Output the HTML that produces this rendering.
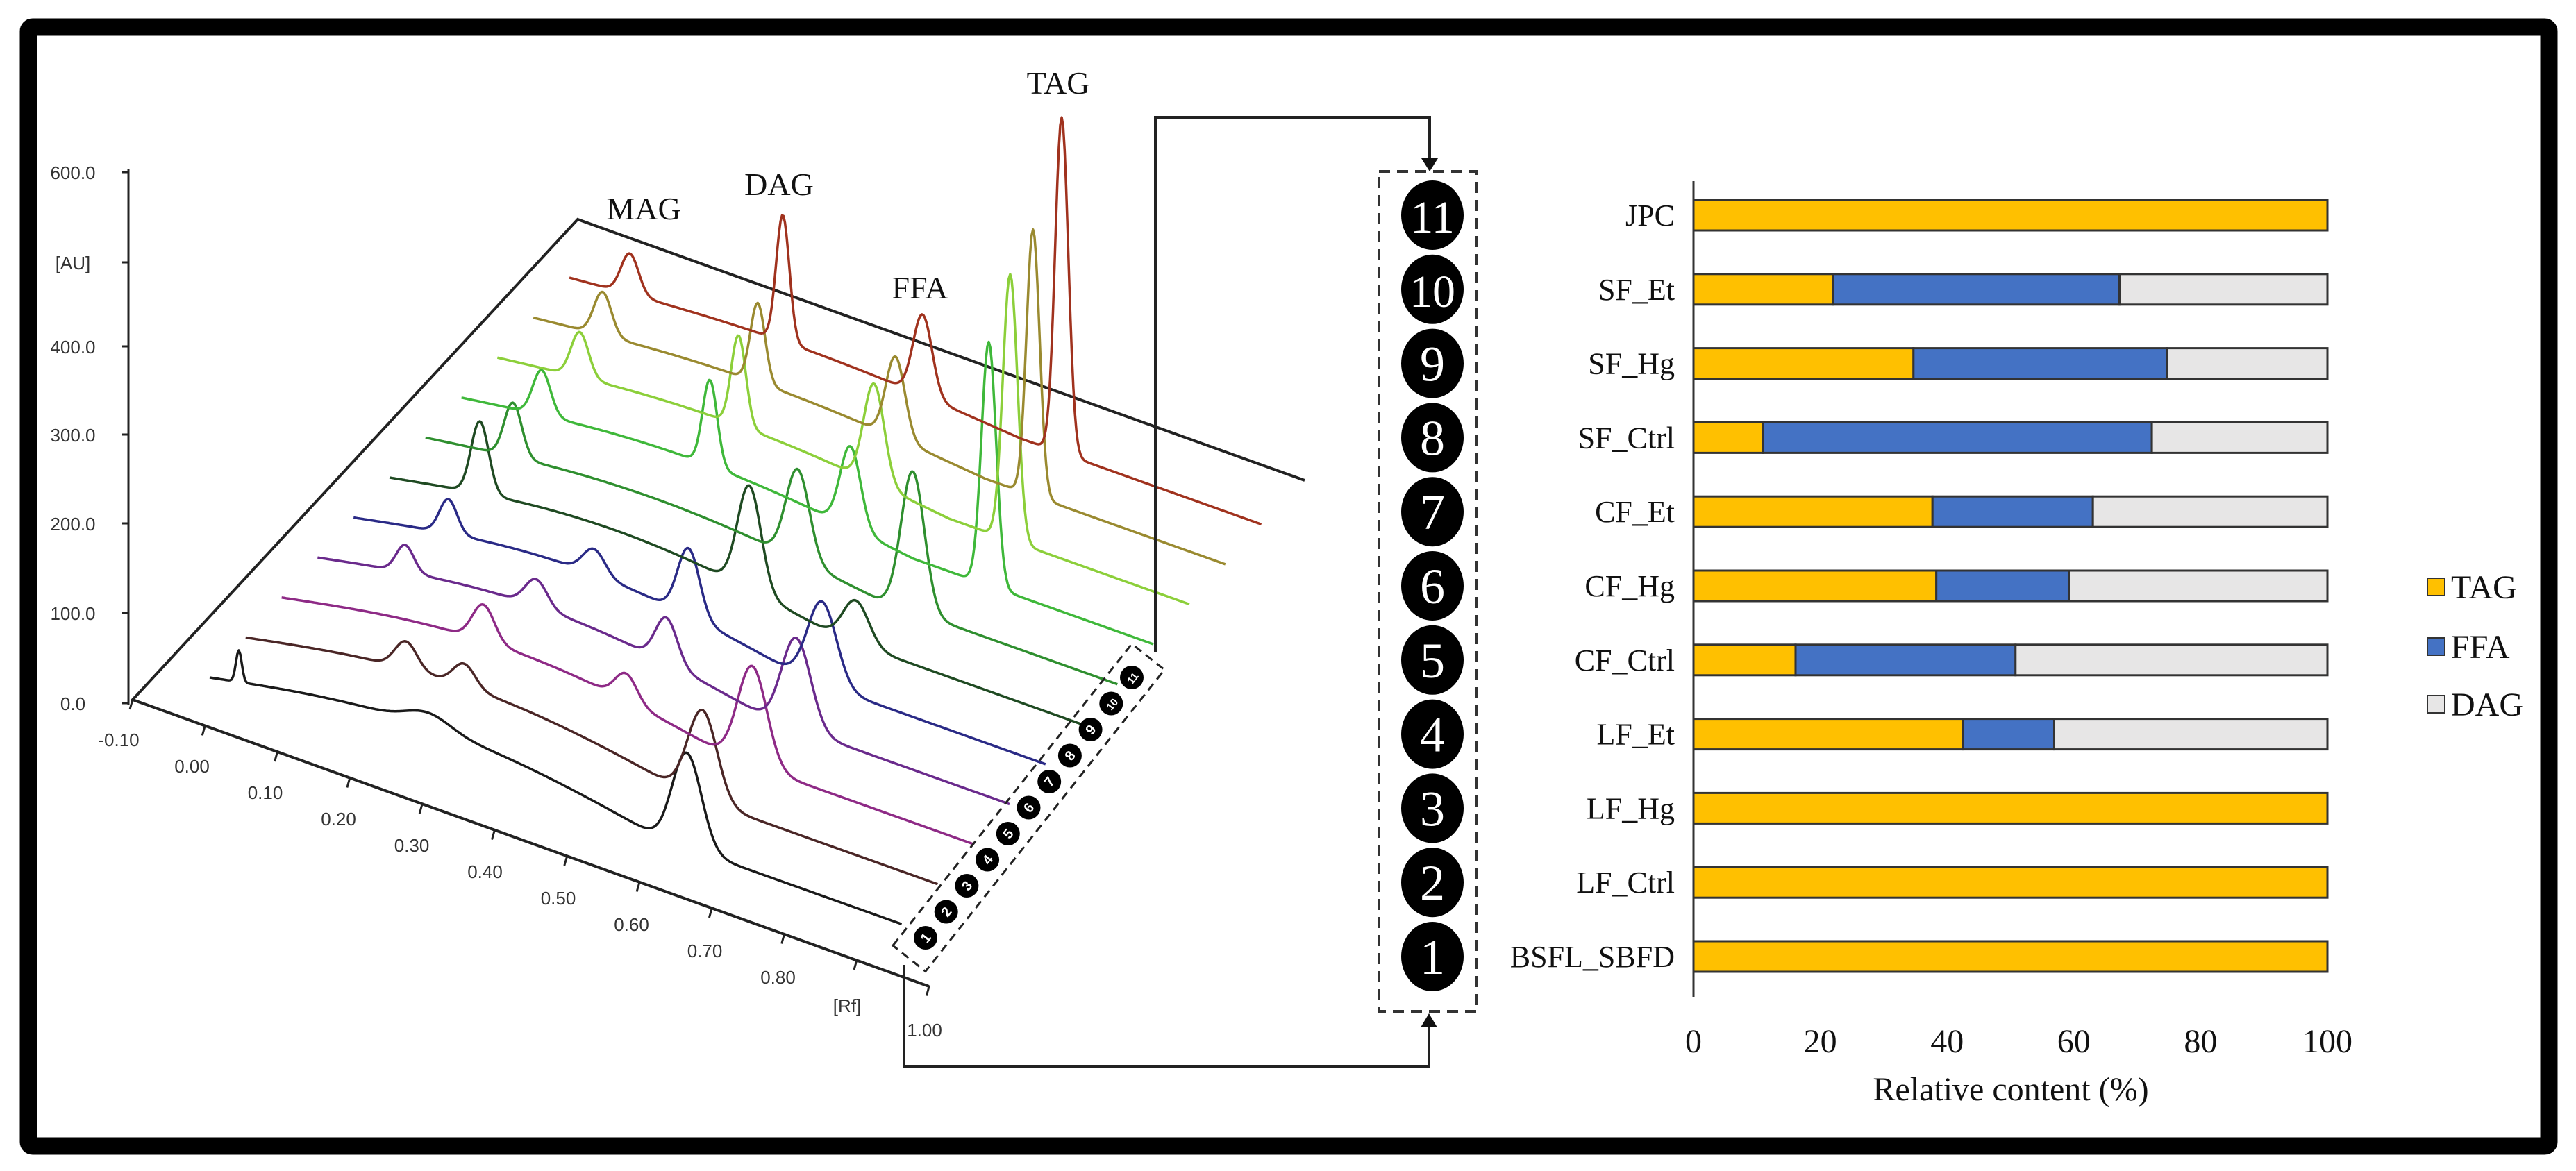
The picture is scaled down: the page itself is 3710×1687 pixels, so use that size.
<!DOCTYPE html>
<html>
<head>
<meta charset="utf-8">
<style>
html,body{margin:0;padding:0;background:#fff;}
svg{display:block;}
text{font-family:"Liberation Serif",serif;}
.sans{font-family:"Liberation Sans",sans-serif;}
</style>
</head>
<body>
<svg id="fig" width="3710" height="1687" viewBox="0 0 3710 1687" xmlns="http://www.w3.org/2000/svg">
  <rect x="0" y="0" width="3710" height="1687" fill="#fff"/>
  <rect x="41" y="39" width="3630" height="1612" rx="6" fill="none" stroke="#000" stroke-width="25"/>
  <g id="tlc"></g>
  <g id="connectors">
    <polyline points="1664,940 1664,169 2059,169 2059,232" fill="none" stroke="#222" stroke-width="4"/>
    <polygon points="2047,228 2071,228 2059,247" fill="#111"/>
    <polyline points="1302,1390 1302,1537 2058,1537 2058,1476" fill="none" stroke="#222" stroke-width="4"/>
    <polygon points="2046,1480 2070,1480 2058,1460" fill="#111"/>
  </g>
  <g id="numcol">
    <rect x="1986" y="247" width="141" height="1210" fill="none" stroke="#333" stroke-width="4" stroke-dasharray="16,10"/>
  </g>
  <g id="bars" font-family="Liberation Serif, serif"></g>
</svg>
<script>
// ---------- Bar chart data ----------
const categories = ["JPC","SF_Et","SF_Hg","SF_Ctrl","CF_Et","CF_Hg","CF_Ctrl","LF_Et","LF_Hg","LF_Ctrl","BSFL_SBFD"];
const tagValues = [100, 22, 34.7, 11, 37.7, 38.3, 16.1, 42.5, 100, 100, 100];
const ffaValues = [0, 45.2, 40, 61.3, 25.3, 20.9, 34.7, 14.4, 0, 0, 0];
const dagValues = [0, 32.8, 25.3, 27.7, 37, 40.8, 49.2, 43.1, 0, 0, 0];
const xTicks = [0, 20, 40, 60, 80, 100];
const seriesNames = ["TAG","FFA","DAG"];
const seriesColors = ["#FFC000","#4472C4","#E7E6E6"];

// ---------- Chromatogram data (per trace: peak Rf position u, height in AU, width) ----------
const traceColors = ["#1a1a1a","#4a2626","#8e2a86","#6a2a8c","#2a2a86","#1f4a22","#2f8f2f","#3fb83a","#8ccf3a","#9a8a30","#a0321e"];
const traceHump = [42, 42, 42, 42, 42, 40, 30, 30, 26, 22, 18];
const peakPos = [
  [0.04, 0.30, 0.655],
  [0.22, 0.30, 0.627],
  [0.277, 0.473, 0.646],
  [0.12, 0.30, 0.479, 0.657],
  [0.13, 0.33, 0.46, 0.643],
  [0.124, 0.494, 0.64],
  [0.12, 0.511, 0.669],
  [0.11, 0.341, 0.534, 0.724],
  [0.113, 0.331, 0.517, 0.704],
  [0.095, 0.308, 0.497, 0.686],
  [0.083, 0.293, 0.485, 0.676]
];
const peakHeightAU = [
  [35, 15, 105],
  [30, 25, 100],
  [40, 30, 110],
  [30, 30, 50, 100],
  [38, 28, 75, 92],
  [80, 115, 48],
  [60, 100, 155],
  [50, 95, 90, 270],
  [50, 100, 110, 295],
  [48, 88, 90, 295],
  [45, 140, 90, 372]
];
const peakWidth = [
  [0.004, 0.03, 0.02],
  [0.015, 0.015, 0.02],
  [0.015, 0.015, 0.02],
  [0.012, 0.015, 0.015, 0.02],
  [0.012, 0.015, 0.015, 0.02],
  [0.012, 0.016, 0.018],
  [0.012, 0.016, 0.016],
  [0.012, 0.01, 0.014, 0.01],
  [0.012, 0.01, 0.014, 0.01],
  [0.012, 0.01, 0.013, 0.009],
  [0.012, 0.009, 0.013, 0.009]
];
const yTickLabels = ["0.0","100.0","200.0","300.0","[AU]","400.0","600.0"];
const yTickPos = [1019, 889, 760, 632, 384, 505, 254];
const rfTickLabels = ["-0.10","0.00","0.10","0.20","0.30","0.40","0.50","0.60","0.70","0.80","","1.00"];
const peakLabels = ["MAG","DAG","FFA","TAG"];
const peakLabelPos = [[927,300],[1122,265],[1325,414],[1524,119]];

const NS = "http://www.w3.org/2000/svg";
function mk(tag, attrs, parent){
  const e = document.createElementNS(NS, tag);
  for (const k in attrs) e.setAttribute(k, attrs[k]);
  parent.appendChild(e);
  return e;
}
const SERIF = 'Liberation Serif, serif';

// ---------- Bar chart ----------
const bars = document.getElementById('bars');
const X0 = 2439, XS = 9.13;
function xScale(v){ return X0 + v*XS; }
function yBand(k){ return 310 + k*106.8; }
const BH = 44;
const ax = mk('line',{x1:X0,y1:261,x2:X0,y2:1437,stroke:'#333','stroke-width':3},bars);


categories.forEach((c,k)=>{
  const yc = yBand(k);
  const lab = mk('text',{x:2412,y:yc+15,'text-anchor':'end','font-size':44,fill:'#111','font-family':SERIF},bars);
  lab.textContent = c;
  
  
  const vals = [tagValues[k], ffaValues[k], dagValues[k]];
  let acc = 0;
  vals.forEach((v,s)=>{
    if (v<=0) return;
    const r = mk('rect',{x:xScale(acc),y:yc-BH/2,width:v*XS,height:BH,fill:seriesColors[s],stroke:'#333','stroke-width':3},bars);
    
    
    acc += v;
  });
});
xTicks.forEach(t=>{
  const tx = mk('text',{x:xScale(t),y:1516,'text-anchor':'middle','font-size':48,fill:'#111','font-family':SERIF},bars);
  tx.textContent = t;
  
  
});
const xt = mk('text',{x:2896,y:1585,'text-anchor':'middle','font-size':48,fill:'#111','font-family':SERIF},bars);
xt.textContent = 'Relative content (%)';


seriesNames.forEach((n,s)=>{
  const ly = [846,932,1015][s];
  const sq = mk('rect',{x:3496,y:ly-13,width:25,height:25,fill:seriesColors[s],stroke:'#333','stroke-width':2},bars);
  
  
  const lt = mk('text',{x:3530,y:ly+16,'font-size':48,fill:'#111','font-family':SERIF},bars);
  lt.textContent = n;
  
  
});

// ---------- Number column ----------
const numcol = document.getElementById('numcol');
for (let k=0;k<11;k++){
  const num = 11-k, yc = yBand(k);
  const el = mk('ellipse',{cx:2063,cy:yc,rx:45,ry:50,fill:'#000'},numcol);
  
  
  const t = mk('text',{x:2063,y:yc+25,'text-anchor':'middle','font-size':num>9?66:72,fill:'#fff','font-family':SERIF},numcol);
  t.textContent = num;
  
  
}

// ---------- 3D chromatogram ----------
const tlc = document.getElementById('tlc');
const AU = 1.3;
const DX = 1049, DY = 374;
function startPt(i){ return [302 + i*51.8, 976 - i*57.6]; }
const yl = mk('line',{x1:185,y1:243,x2:185,y2:1016,stroke:'#222','stroke-width':3},tlc);


yTickLabels.forEach((l,j)=>{
  const y = yTickPos[j];
  const tk = mk('line',{x1:176,y1:y-6,x2:185,y2:y-6,stroke:'#222','stroke-width':3},tlc);
  
  
  const t = mk('text',{x:105,y:y+4,'text-anchor':'middle','font-size':26,fill:'#333',class:'sans'},tlc);
  t.textContent = l;
  
  
});
const plane = mk('polyline',{points:'1879,692 832,316 191,1008 1338,1421',fill:'none',stroke:'#222','stroke-width':4},tlc);


rfTickLabels.forEach((l,k)=>{
  const bx = 191 + k*104.3, by = 1008 + k*37.5;
  const tk = mk('line',{x1:bx,y1:by,x2:bx-4,y2:by+14,stroke:'#222','stroke-width':3},tlc);
  
  
  if (!l) return;
  const t = mk('text',{x:171+k*105.5,y:1075+k*38,'text-anchor':'middle','font-size':26,fill:'#333',class:'sans'},tlc);
  t.textContent = l;
  
  
});
const rfT = mk('text',{x:1220,y:1458,'text-anchor':'middle','font-size':26,fill:'#333',class:'sans'},tlc);
rfT.textContent = '[Rf]';



for (let i=0;i<11;i++){
  const [sx,sy] = startPt(i);
  let d = '';
  for (let s=0;s<=475;s++){
    const u = s*0.002;
    let h = 0;
    if (u < 0.62) h += traceHump[i]*Math.sin(Math.PI*u/0.62);
    for (let p=0;p<peakPos[i].length;p++){
      const du = (u - peakPos[i][p]) / peakWidth[i][p];
      h += peakHeightAU[i][p]*AU*Math.exp(-0.5*du*du);
    }
    const x = sx + u*DX, y = sy + u*DY - h;
    d += (s===0?'M':'L') + x.toFixed(1) + ',' + y.toFixed(1);
  }
  const path = mk('path',{d:d,fill:'none',stroke:traceColors[i],'stroke-width':3.5,'stroke-linejoin':'round'},tlc);
  
  
}
peakLabels.forEach((l,j)=>{
  const t = mk('text',{x:peakLabelPos[j][0],y:peakLabelPos[j][1]+16,'text-anchor':'middle','font-size':46,fill:'#111','font-family':SERIF},tlc);
  t.textContent = l;
  
  
});
const p1 = [1333,1351], p11 = [1630,976];
const len = Math.hypot(p11[0]-p1[0], p11[1]-p1[1]);
const dv = [(p11[0]-p1[0])/len, (p11[1]-p1[1])/len];
const nv = [-dv[1], dv[0]];
const ext = 38, half = 30;
const c = [
  [p1[0]-ext*dv[0]-half*nv[0], p1[1]-ext*dv[1]-half*nv[1]],
  [p11[0]+ext*dv[0]-half*nv[0], p11[1]+ext*dv[1]-half*nv[1]],
  [p11[0]+ext*dv[0]+half*nv[0], p11[1]+ext*dv[1]+half*nv[1]],
  [p1[0]-ext*dv[0]+half*nv[0], p1[1]-ext*dv[1]+half*nv[1]]
];
const box = mk('polygon',{points:c.map(q=>q[0].toFixed(1)+','+q[1].toFixed(1)).join(' '),fill:'none',stroke:'#222','stroke-width':3,'stroke-dasharray':'12,8'},tlc);


for (let k=0;k<11;k++){
  const cx = p1[0] + (p11[0]-p1[0])*k/10, cy = p1[1] + (p11[1]-p1[1])*k/10;
  const ci = mk('circle',{cx:cx,cy:cy,r:17,fill:'#000'},tlc);
  
  
  const t = mk('text',{x:cx,y:cy+7,'text-anchor':'middle','font-size':k>8?15:20,'font-weight':'bold',fill:'#fff',class:'sans',transform:'rotate(-52 '+cx+' '+cy+')'},tlc);
  t.textContent = k+1;
  
  
}
</script>
</body>
</html>
